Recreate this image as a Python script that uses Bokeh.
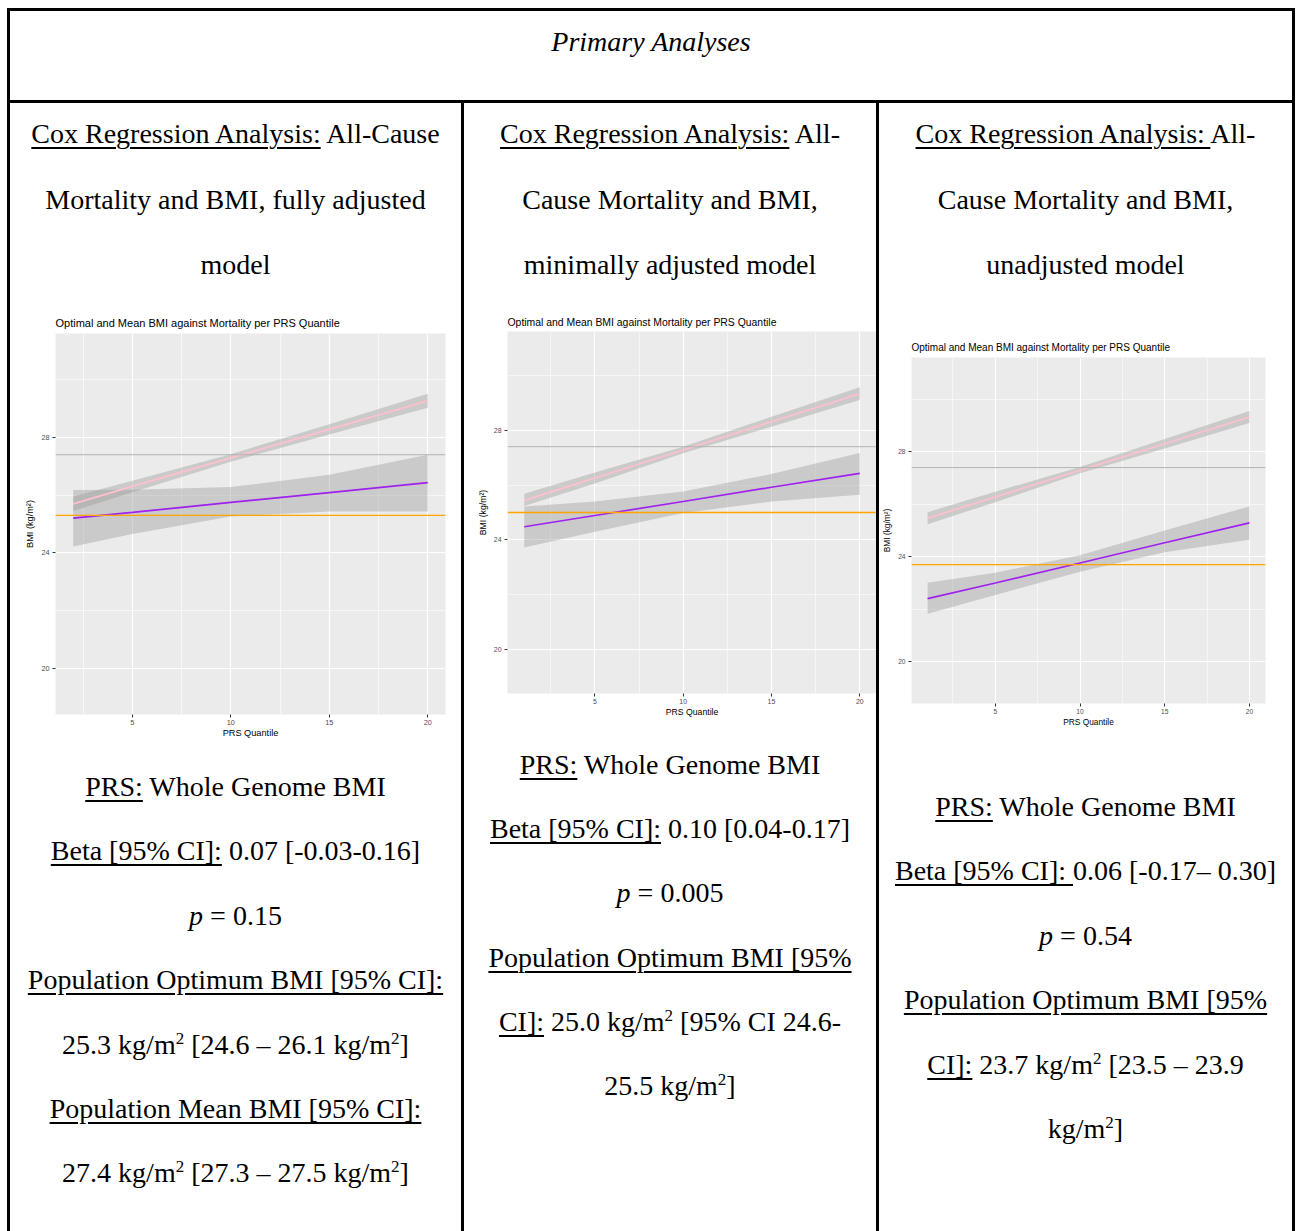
from bokeh.plotting import figure
from bokeh.layouts import column, row
from bokeh.models import Range1d, FixedTicker, Span, Div
from bokeh.embed import file_html
from bokeh.resources import INLINE

# ---------------- chart data ----------------
# PRS quantiles at which the fitted values are listed
quant_full = [2, 5, 10, 15, 20]
quant_other = [1, 5, 10, 15, 20]

# fully adjusted model
full_mean = [25.70, 26.30, 27.29, 28.28, 29.27]
full_mean_lo = [25.45, 26.10, 27.16, 28.10, 29.03]
full_mean_hi = [25.95, 26.50, 27.42, 28.46, 29.51]
full_opt = [25.20, 25.40, 25.75, 26.09, 26.43]
full_opt_lo = [24.22, 24.65, 25.26, 25.43, 25.43]
full_opt_hi = [26.18, 26.19, 26.28, 26.71, 27.40]

# minimally adjusted model
min_mean = [25.44, 26.26, 27.28, 28.31, 29.33]
min_mean_lo = [25.24, 26.06, 27.16, 28.13, 29.10]
min_mean_hi = [25.68, 26.46, 27.40, 28.49, 29.57]
min_opt = [24.48, 24.89, 25.40, 25.92, 26.43]
min_opt_lo = [23.72, 24.30, 24.98, 25.40, 25.65]
min_opt_hi = [25.22, 25.40, 25.77, 26.40, 27.17]

# unadjusted model
un_mean = [25.47, 26.28, 27.30, 28.31, 29.33]
un_mean_lo = [25.24, 26.08, 27.18, 28.13, 29.10]
un_mean_hi = [25.70, 26.48, 27.42, 28.49, 29.56]
un_opt = [22.40, 23.00, 23.76, 24.53, 25.29]
un_opt_lo = [21.82, 22.54, 23.43, 24.17, 24.65]
un_opt_hi = [23.01, 23.39, 24.06, 25.00, 25.92]

pop_mean_bmi = [27.4, 27.4, 27.4]
pop_optimum_bmi = [25.3, 25.0, 23.7]

x_ticks = [5, 10, 15, 20]
x_minor = [2.5, 7.5, 12.5, 17.5]
y_ticks = [20, 24, 28]
y_minor = [22, 26, 30]

chart_title = "Optimal and Mean BMI against Mortality per PRS Quantile"

# ---------------- table text ----------------
# kinds: n normal, u underlined, i italic, s superscript
col1_head = [
    [("Cox Regression Analysis:", "u"), (" All-Cause", "n")],
    [("Mortality and BMI, fully adjusted", "n")],
    [("model", "n")],
]
col2_head = [
    [("Cox Regression Analysis:", "u"), (" All-", "n")],
    [("Cause Mortality and BMI,", "n")],
    [("minimally adjusted model", "n")],
]
col3_head = [
    [("Cox Regression Analysis: ", "u"), ("All-", "n")],
    [("Cause Mortality and BMI,", "n")],
    [("unadjusted model", "n")],
]
col1_body = [
    [("PRS:", "u"), (" Whole Genome BMI", "n")],
    [("Beta [95% CI]:", "u"), (" 0.07 [-0.03-0.16]", "n")],
    [("p", "i"), (" = 0.15", "n")],
    [("Population Optimum BMI [95% CI]:", "u")],
    [("25.3 kg/m", "n"), ("2", "s"), (" [24.6 \u2013 26.1 kg/m", "n"), ("2", "s"), ("]", "n")],
    [("Population Mean BMI [95% CI]:", "u")],
    [("27.4 kg/m", "n"), ("2", "s"), (" [27.3 \u2013 27.5 kg/m", "n"), ("2", "s"), ("]", "n")],
]
col2_body = [
    [("PRS:", "u"), (" Whole Genome BMI", "n")],
    [("Beta [95% CI]:", "u"), (" 0.10 [0.04-0.17]", "n")],
    [("p", "i"), (" = 0.005", "n")],
    [("Population Optimum BMI [95%", "u")],
    [("CI]:", "u"), (" 25.0 kg/m", "n"), ("2", "s"), (" [95% CI 24.6-", "n")],
    [("25.5 kg/m", "n"), ("2", "s"), ("]", "n")],
]
col3_body = [
    [("PRS:", "u"), (" Whole Genome BMI", "n")],
    [("Beta [95% CI]: ", "u"), ("0.06 [-0.17\u2013 0.30]", "n")],
    [("p", "i"), (" = 0.54", "n")],
    [("Population Optimum BMI [95%", "u")],
    [("CI]:", "u"), (" 23.7 kg/m", "n"), ("2", "s"), (" [23.5 \u2013 23.9", "n")],
    [("kg/m", "n"), ("2", "s"), ("]", "n")],
]

SERIF = "'Liberation Serif', 'Times New Roman', serif"
SANS = "Liberation Sans"
FS = 28
LINE_H = 32
ASCENT = 25.5   # baseline offset inside a 32px line box at 28px


def seg_html(t, k):
    if k == "u":
        return ('<span style="text-decoration:underline;text-decoration-thickness:2px;'
                f'text-underline-offset:4px">{t}</span>')
    if k == "i":
        return f"<i>{t}</i>"
    if k == "s":
        return f'<span style="font-size:17px;position:relative;top:-10px">{t}</span>'
    return t


def text_cell(oy, w, h, baselines, lines):
    parts = []
    for y, segs in zip(baselines, lines):
        body = "".join(seg_html(t, k) for t, k in segs)
        parts.append(
            f'<div style="position:absolute;left:0;top:{y - oy - ASCENT:.1f}px;width:{w}px;'
            f'height:{LINE_H}px;line-height:{LINE_H}px;text-align:center;white-space:pre;">'
            f"{body}</div>")
    html = (f'<div style="position:relative;width:{w}px;height:{h}px;overflow:hidden;'
            f'font-family:{SERIF};font-size:{FS}px;color:#000;">' + "".join(parts) + "</div>")
    return Div(text=html, width=w, height=h, margin=(0, 0, 0, 0))


def bar_html(bars):
    return "".join(
        f'<div style="position:absolute;left:{x}px;top:{y}px;width:{bw}px;height:{bh}px;'
        f'background:#000;"></div>' for x, y, bw, bh in bars)


def rule(w, h, bars):
    html = (f'<div style="position:relative;width:{w}px;height:{h}px;background:#fff;">'
            + bar_html(bars) + "</div>")
    return Div(text=html, width=w, height=h, margin=(0, 0, 0, 0))


def make_chart(ox, oy, w, h, fl, fr, ft, fb, xr, q, mean, mlo, mhi, opt, olo, ohi, pmean, popt,
               s, title_gap):
    p = figure(width=w, height=h, x_range=Range1d(*xr), y_range=Range1d(18.4, 31.6),
               min_border_left=fl - ox, min_border_right=ox + w - fr,
               min_border_top=ft - oy, min_border_bottom=oy + h - fb,
               toolbar_location=None, output_backend="svg", title=chart_title,
               x_axis_label="PRS Quantile", y_axis_label="BMI (kg/m\u00b2)")
    p.title.text_font = SANS
    p.title.text_font_size = f"{11.0 * s:.2f}px"
    p.title.text_font_style = "normal"
    p.title.text_color = "black"
    p.title.align = "left"
    p.title.standoff = title_gap
    p.background_fill_color = "#EBEBEB"
    p.border_fill_color = "white"
    p.outline_line_color = None

    xt = FixedTicker(ticks=x_ticks, minor_ticks=x_minor)
    yt = FixedTicker(ticks=y_ticks, minor_ticks=y_minor)
    p.xaxis.ticker = xt
    p.yaxis.ticker = yt
    p.xgrid.ticker = xt
    p.ygrid.ticker = yt
    for g in (p.xgrid, p.ygrid):
        g.grid_line_color = "white"
        g.grid_line_width = 1.2 * s
        g.minor_grid_line_color = "white"
        g.minor_grid_line_width = 0.6 * s
    for ax in (p.xaxis, p.yaxis):
        ax.axis_line_color = None
        ax.major_tick_line_color = "#333333"
        ax.major_tick_line_width = 1
        ax.major_tick_out = 3
        ax.major_tick_in = 0
        ax.minor_tick_line_color = None
        ax.major_label_text_font = SANS
        ax.major_label_text_font_size = f"{7.3 * s:.2f}px"
        ax.major_label_text_color = "#4D4D4D"
        ax.axis_label_text_font = SANS
        ax.axis_label_text_font_size = f"{9.2 * s:.2f}px"
        ax.axis_label_text_font_style = "normal"
        ax.axis_label_text_color = "black"
    p.xaxis.major_label_standoff = 1
    p.xaxis.axis_label_standoff = 0
    p.yaxis.major_label_standoff = 2
    p.yaxis.axis_label_standoff = 3

    p.varea(x=q, y1=olo, y2=ohi, fill_color="#999999", fill_alpha=0.4)
    p.varea(x=q, y1=mlo, y2=mhi, fill_color="#999999", fill_alpha=0.4)
    p.line(q, mean, line_color="#FFC0CB", line_width=1.8 * s)
    p.line(q, opt, line_color="#A020F0", line_width=1.8 * s)
    p.add_layout(Span(location=pmean, dimension="width", line_color="#B3B3B3", line_width=1.0))
    p.add_layout(Span(location=popt, dimension="width", line_color="#FFA500", line_width=1.4))
    return p


# ---------------- header row ----------------
header_html = (
    '<div style="position:relative;width:1302px;height:103px;background:#fff;">'
    + bar_html([(7, 8, 1288, 3), (7, 8, 3, 95), (1292, 8, 3, 95), (7, 100, 1288, 3)])
    + f'<div style="position:absolute;left:0;top:{51 - ASCENT}px;width:1302px;height:{LINE_H}px;'
    f'line-height:{LINE_H}px;text-align:center;white-space:pre;font-family:{SERIF};'
    f'font-size:{FS}px;font-style:italic;color:#000;">Primary Analyses</div></div>')
header = Div(text=header_html, width=1302, height=103, margin=(0, 0, 0, 0))

# ---------------- vertical rules ----------------
left_rule = rule(10, 1128, [(7, 0, 3, 1128)])
rule_1 = rule(3, 1128, [(0, 0, 3, 1128)])
rule_2 = rule(3, 1128, [(0, 0, 3, 1128)])
right_rule = rule(10, 1128, [(0, 0, 3, 1128)])

head_baselines = [143.5, 209.0, 274.0]

# ---------------- column 1 ----------------
c1_top = text_cell(103, 451, 205, head_baselines, col1_head)
c1_chart = make_chart(10, 308, 451, 432, 55, 445, 333, 714, (1.1, 20.9), quant_full,
                      full_mean, full_mean_lo, full_mean_hi, full_opt, full_opt_lo, full_opt_hi,
                      pop_mean_bmi[0], pop_optimum_bmi[0], 1.0, 9)
c1_bot = text_cell(740, 451, 491, [796.5 + 64.4 * k for k in range(len(col1_body))], col1_body)

# ---------------- column 2 ----------------
c2_top = text_cell(103, 412, 205, head_baselines, col2_head)
c2_chart = make_chart(464, 308, 412, 412, 507, 876, 331, 693, (0.05, 20.95), quant_other,
                      min_mean, min_mean_lo, min_mean_hi, min_opt, min_opt_lo, min_opt_hi,
                      pop_mean_bmi[1], pop_optimum_bmi[1], 0.947, 8)
c2_bot = text_cell(720, 412, 511, [774.5 + 64.2 * k for k in range(len(col2_body))], col2_body)

# ---------------- column 3 ----------------
c3_top = text_cell(103, 413, 230, head_baselines, col3_head)
c3_chart = make_chart(879, 333, 413, 397, 910, 1265, 357, 703, (0.05, 20.95), quant_other,
                      un_mean, un_mean_lo, un_mean_hi, un_opt, un_opt_lo, un_opt_hi,
                      pop_mean_bmi[2], pop_optimum_bmi[2], 0.909, 9)
c3_bot = text_cell(730, 413, 501, [816.5 + 64.4 * k for k in range(len(col3_body))], col3_body)

layout = column(
    header,
    row(left_rule,
        column(c1_top, c1_chart, c1_bot),
        rule_1,
        column(c2_top, c2_chart, c2_bot),
        rule_2,
        column(c3_top, c3_chart, c3_bot),
        right_rule),
)

with open("out.html", "w") as f:
    f.write(file_html(layout, INLINE))
